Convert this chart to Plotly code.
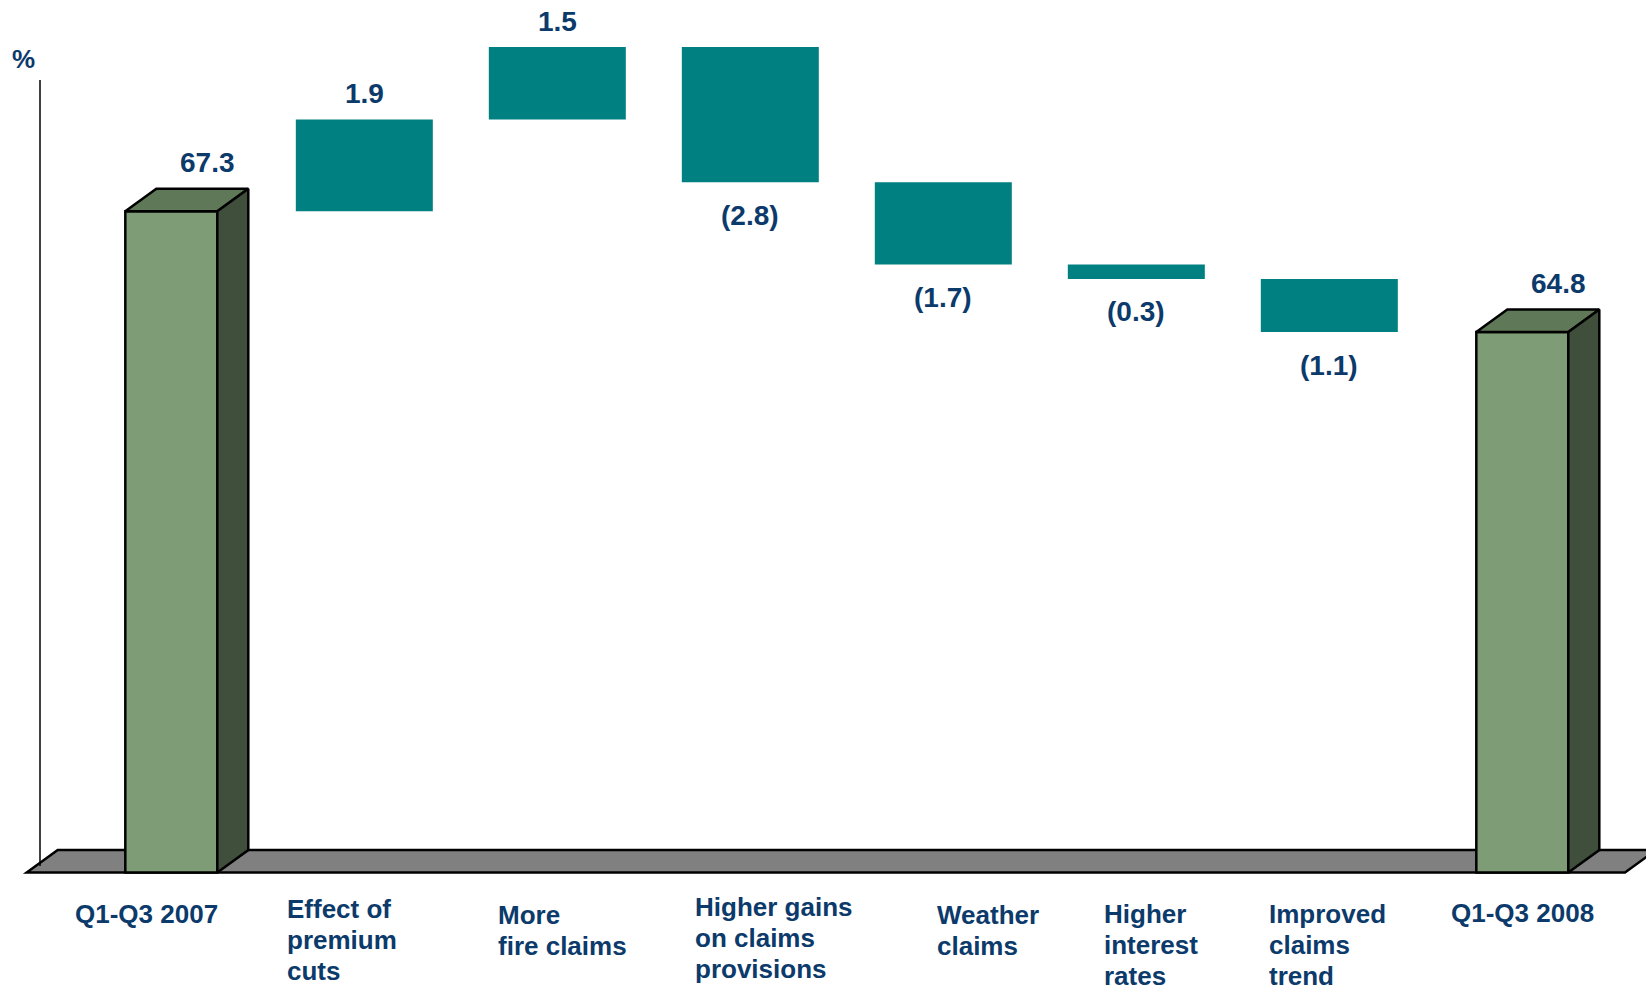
import plotly.graph_objects as go

# ---------------- data ----------------
categories = [
    "Q1-Q3 2007",
    "Effect of\npremium\ncuts",
    "More\nfire claims",
    "Higher gains\non claims\nprovisions",
    "Weather\nclaims",
    "Higher\ninterest\nrates",
    "Improved\nclaims\ntrend",
    "Q1-Q3 2008",
]
start_value = 67.3
deltas = [1.9, 1.5, -2.8, -1.7, -0.3, -1.1]
end_value = 64.8
unit_label = "%"

# ---------------- styling / layout constants ----------------
W, H = 1646, 992
NAVY = "#0B3A6B"
TEAL = "#008080"
FRONT = "#7E9C75"
TOP = "#5F7857"
SIDE = "#3F4F3B"
FLOOR = "#808080"
FONT = "Liberation Sans, Arial, sans-serif"

PX_PER_X = 193.0          # pixels per category step
X_LEFT = -0.8876          # axis value at left edge
PX_PER_Y = 48.32          # pixels per percentage point
Y_TOP = 71.673            # axis value at top edge
FLOOR_PX = 872.5          # pixel row of floor front edge
DEPTH_PX_X, DEPTH_PX_Y = 31.0, 22.5

def px_to_x(px):
    return X_LEFT + px / PX_PER_X

def px_to_y(py):
    return Y_TOP - py / PX_PER_Y

Y_FLOOR = px_to_y(FLOOR_PX)
DX = DEPTH_PX_X / PX_PER_X
DY = DEPTH_PX_Y / PX_PER_Y
W3D = 92 / PX_PER_X
WDELTA = 137 / PX_PER_X

n = len(categories)
xs = list(range(n))

# running totals
bases = []
run = start_value
for d in deltas:
    bases.append(run)
    run += d

fig = go.Figure()

# floor (parallelogram) and vertical axis line
floor_path = (
    f"M {px_to_x(26.7)},{Y_FLOOR} L {px_to_x(1625)},{Y_FLOOR} "
    f"L {px_to_x(1625 + DEPTH_PX_X)},{Y_FLOOR + DY} L {px_to_x(26.7 + DEPTH_PX_X)},{Y_FLOOR + DY} Z"
)
shapes = [
    dict(type="path", path=floor_path, xref="x", yref="y", fillcolor=FLOOR,
         line=dict(color="black", width=2.5), layer="below"),
    dict(type="line", xref="x", yref="y", x0=px_to_x(40), x1=px_to_x(40),
         y0=px_to_y(80), y1=px_to_y(866), line=dict(color="black", width=1.5), layer="below"),
]

# 3D total bars: front faces
totals = [start_value, end_value]
total_x = [xs[0], xs[-1]]
fig.add_trace(go.Bar(
    x=total_x, y=[v - Y_FLOOR for v in totals], base=[Y_FLOOR, Y_FLOOR],
    width=W3D, marker=dict(color=FRONT, line=dict(color="black", width=2.5)),
    hoverinfo="skip", showlegend=False,
))

# delta bars
fig.add_trace(go.Bar(
    x=xs[1:-1], y=deltas, base=bases, width=WDELTA,
    marker=dict(color=TEAL, line=dict(width=0)),
    hoverinfo="skip", showlegend=False,
))

# top and side faces of 3D bars
for xc, v in zip(total_x, totals):
    l, r = xc - W3D / 2, xc + W3D / 2
    fig.add_trace(go.Scatter(
        x=[l, r, r + DX, l + DX, l], y=[v, v, v + DY, v + DY, v],
        mode="lines", fill="toself", fillcolor=TOP,
        line=dict(color="black", width=2.5), hoverinfo="skip", showlegend=False,
    ))
    fig.add_trace(go.Scatter(
        x=[r, r + DX, r + DX, r, r], y=[Y_FLOOR, Y_FLOOR + DY, v + DY, v, Y_FLOOR],
        mode="lines", fill="toself", fillcolor=SIDE,
        line=dict(color="black", width=2.5), hoverinfo="skip", showlegend=False,
    ))

annotations = []
vfont = dict(family=FONT, size=28, color=NAVY)

# total labels
for xc, v in zip(total_x, totals):
    annotations.append(dict(x=xc, y=v, xref="x", yref="y", text=f"<b>{v:.1f}</b>",
                            showarrow=False, xanchor="center", yanchor="middle",
                            xshift=36, yshift=49, font=vfont))
# delta labels
for xc, b, d in zip(xs[1:-1], bases, deltas):
    if d >= 0:
        annotations.append(dict(x=xc, y=b + d, xref="x", yref="y", text=f"<b>{d:.1f}</b>",
                                showarrow=False, xanchor="center", yanchor="middle",
                                yshift=26, font=vfont))
    else:
        annotations.append(dict(x=xc, y=b + d, xref="x", yref="y", text=f"<b>({-d:.1f})</b>",
                                showarrow=False, xanchor="center", yanchor="middle",
                                yshift=-33, font=vfont))

# category labels (left aligned, one annotation per line)
label_left_px = [72.7, 285, 496, 693.3, 935, 1101.7, 1266.7, 1449]
label_base_px = [922.7, 918.3, 924, 916, 924, 923, 923, 921.7]
LINE_PX = 31.0
cfont = dict(family=FONT, size=26, color=NAVY)
for cat, lx, by in zip(categories, label_left_px, label_base_px):
    for k, line in enumerate(cat.split("\n")):
        baseline = by + k * LINE_PX
        annotations.append(dict(x=px_to_x(lx), y=px_to_y(baseline - 9), xref="x", yref="y",
                                text=f"<b>{line}</b>", showarrow=False,
                                xanchor="left", yanchor="middle", font=cfont))

# unit label
annotations.append(dict(x=px_to_x(23.7), y=px_to_y(58.8), xref="x", yref="y",
                        text=f"<b>{unit_label}</b>", showarrow=False,
                        xanchor="center", yanchor="middle",
                        font=dict(family=FONT, size=26, color=NAVY)))

fig.update_layout(
    width=W, height=H, autosize=False,
    margin=dict(l=0, r=0, t=0, b=0),
    paper_bgcolor="white", plot_bgcolor="white",
    barmode="overlay", showlegend=False,
    shapes=shapes, annotations=annotations,
    xaxis=dict(range=[X_LEFT, px_to_x(W)], visible=False, fixedrange=True),
    yaxis=dict(range=[px_to_y(H), Y_TOP], visible=False, fixedrange=True),
)

fig.write_html("out.html", config={"displayModeBar": False},
               post_script="document.body.style.margin='0px';")
